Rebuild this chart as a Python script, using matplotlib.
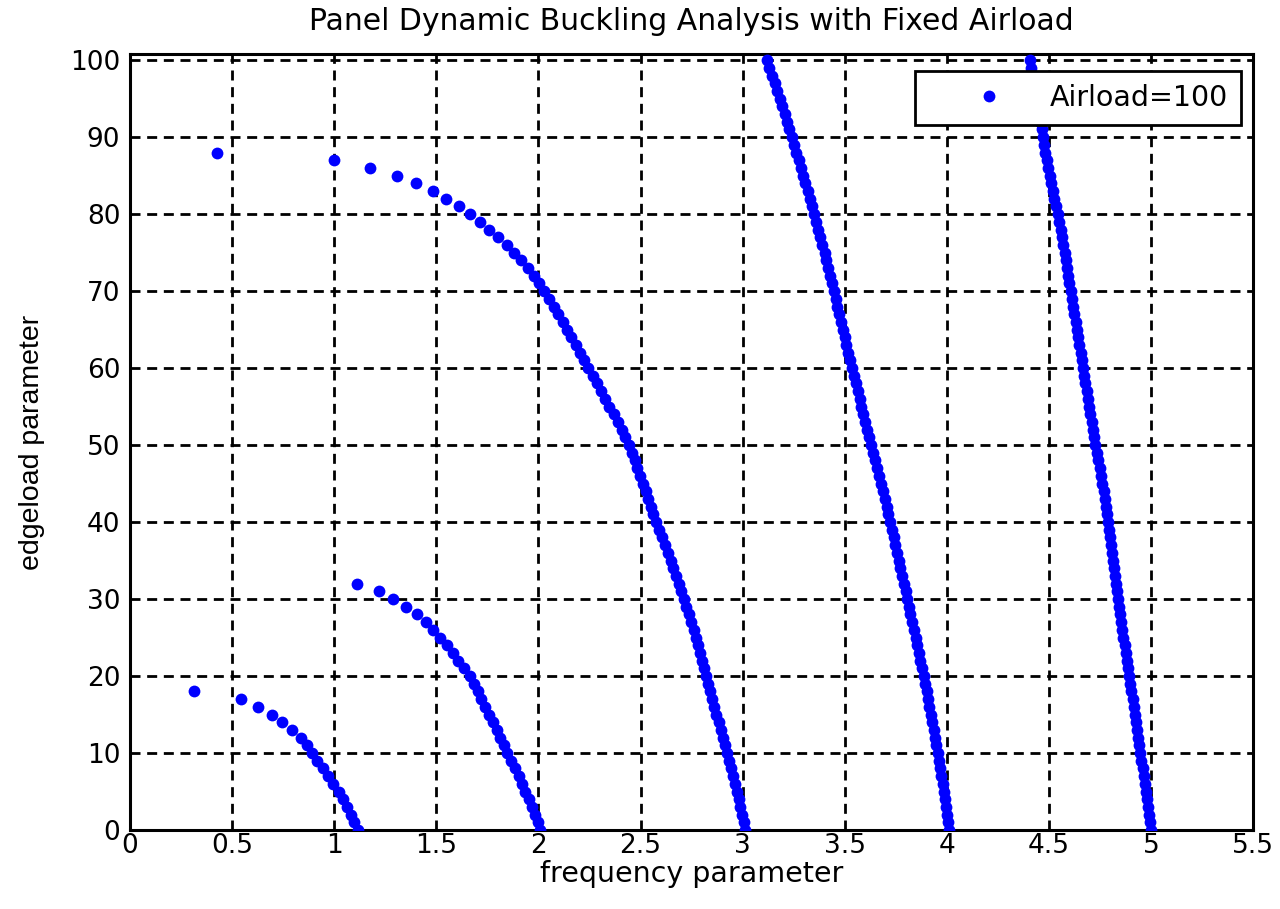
import numpy as np
import matplotlib.pyplot as plt

plt.rcParams['font.family'] = ['DejaVu Sans']

# edgeload steps (one per integer), frequency for each branch
edge_1 = np.arange(0, 19)
freq_1 = [1.117, 1.098, 1.081, 1.062, 1.043, 1.021, 0.995, 0.968, 0.944, 0.918,
          0.890, 0.866, 0.838, 0.794, 0.744, 0.695, 0.629, 0.541, 0.315]

edge_2 = np.arange(0, 33)
freq_2 = [2.010, 1.996, 1.982, 1.968, 1.952, 1.936, 1.920, 1.903, 1.884, 1.865,
          1.846, 1.829, 1.812, 1.796, 1.778, 1.759, 1.740, 1.721, 1.702, 1.683,
          1.664, 1.635, 1.608, 1.580, 1.550, 1.518, 1.482, 1.449, 1.404, 1.353,
          1.289, 1.218, 1.111]

edge_3 = np.arange(0, 89)
freq_3 = [3.013, 3.005, 2.997, 2.989, 2.980, 2.972, 2.962, 2.952, 2.942, 2.932,
          2.922, 2.912, 2.902, 2.892, 2.882, 2.872, 2.862, 2.852, 2.842, 2.832,
          2.822, 2.812, 2.802, 2.792, 2.782, 2.772, 2.761, 2.749, 2.737, 2.725,
          2.713, 2.700, 2.687, 2.674, 2.661, 2.648, 2.633, 2.619, 2.605, 2.590,
          2.575, 2.563, 2.550, 2.537, 2.525, 2.512, 2.498, 2.485, 2.472, 2.459,
          2.445, 2.426, 2.407, 2.388, 2.368, 2.348, 2.328, 2.307, 2.286, 2.265,
          2.244, 2.224, 2.204, 2.183, 2.161, 2.139, 2.118, 2.097, 2.074, 2.051,
          2.027, 2.003, 1.977, 1.947, 1.914, 1.880, 1.845, 1.803, 1.758, 1.712,
          1.663, 1.612, 1.545, 1.483, 1.398, 1.307, 1.176, 1.000, 0.426]

edge_4 = np.arange(0, 101)
freq_4 = [4.013, 4.007, 4.002, 3.996, 3.991, 3.985, 3.979, 3.973, 3.967, 3.961,
          3.955, 3.948, 3.942, 3.935, 3.929, 3.922, 3.915, 3.908, 3.901, 3.894,
          3.887, 3.879, 3.871, 3.863, 3.855, 3.847, 3.839, 3.831, 3.822, 3.814,
          3.806, 3.798, 3.790, 3.781, 3.773, 3.765, 3.757, 3.748, 3.740, 3.731,
          3.723, 3.714, 3.705, 3.696, 3.687, 3.678, 3.668, 3.658, 3.649, 3.639,
          3.629, 3.620, 3.610, 3.601, 3.591, 3.582, 3.573, 3.564, 3.554, 3.545,
          3.536, 3.527, 3.518, 3.508, 3.499, 3.490, 3.481, 3.473, 3.464, 3.456,
          3.447, 3.438, 3.429, 3.419, 3.410, 3.401, 3.391, 3.381, 3.370, 3.360,
          3.350, 3.339, 3.328, 3.318, 3.307, 3.296, 3.285, 3.274, 3.262, 3.251,
          3.240, 3.229, 3.217, 3.206, 3.194, 3.183, 3.170, 3.157, 3.144, 3.131,
          3.118]

edge_5 = np.arange(0, 101)
freq_5 = [5.000, 4.995, 4.990, 4.985, 4.980, 4.975, 4.970, 4.964, 4.959, 4.953,
          4.948, 4.943, 4.937, 4.932, 4.926, 4.921, 4.915, 4.910, 4.904, 4.899,
          4.893, 4.887, 4.882, 4.876, 4.871, 4.865, 4.859, 4.854, 4.848, 4.843,
          4.837, 4.833, 4.828, 4.824, 4.819, 4.815, 4.810, 4.805, 4.800, 4.795,
          4.790, 4.784, 4.779, 4.773, 4.768, 4.762, 4.755, 4.748, 4.740, 4.733,
          4.726, 4.720, 4.714, 4.709, 4.703, 4.697, 4.691, 4.685, 4.679, 4.673,
          4.667, 4.661, 4.655, 4.649, 4.643, 4.637, 4.631, 4.625, 4.618, 4.612,
          4.606, 4.600, 4.595, 4.589, 4.584, 4.578, 4.571, 4.564, 4.557, 4.550,
          4.543, 4.535, 4.527, 4.519, 4.511, 4.503, 4.496, 4.490, 4.483, 4.477,
          4.470, 4.464, 4.458, 4.452, 4.446, 4.440, 4.433, 4.426, 4.419, 4.412,
          4.405]

x_ticks = [0, 0.5, 1, 1.5, 2, 2.5, 3, 3.5, 4, 4.5, 5, 5.5]
x_tick_labels = ['0', '0.5', '1', '1.5', '2', '2.5', '3', '3.5', '4', '4.5', '5', '5.5']
y_ticks = [0, 10, 20, 30, 40, 50, 60, 70, 80, 90, 100]

freq_all = np.concatenate([freq_1, freq_2, freq_3, freq_4, freq_5])
edge_all = np.concatenate([edge_1, edge_2, edge_3, edge_4, edge_5])

fig = plt.figure(figsize=(12.8, 9.09), dpi=100)
ax = fig.add_axes([0.1016, 0.0869, 0.8774, 0.8537])

ax.plot(freq_all, edge_all, 'o', color=(0, 0, 1), markersize=8.5, markeredgewidth=0,
        label='Airload=100', zorder=3)

ax.set_xlim(0, 5.5)
ax.set_ylim(0, 100.8)
ax.set_xticks(x_ticks)
ax.set_xticklabels(x_tick_labels)
ax.set_yticks(y_ticks)
ax.tick_params(direction='in', length=0, labelsize=19)
ax.tick_params(axis='x', pad=2)
ax.tick_params(axis='y', pad=7)

ax.grid(True, color='black', linewidth=2, linestyle=(0, (3.6, 2.4)))
ax.set_axisbelow(True)
for s in ax.spines.values():
    s.set_linewidth(2.2)
    s.set_color('black')

ax.set_title('Panel Dynamic Buckling Analysis with Fixed Airload', fontsize=21.5, pad=17)
ax.set_xlabel('frequency parameter', fontsize=20.5, labelpad=1)
# vertical text in the reference is narrower, a plain Arial-like face fits it
ax.set_ylabel('edgeload parameter', fontsize=20.5, labelpad=18,
              family=['Liberation Sans', 'DejaVu Sans'])

leg = ax.legend(loc='upper right', bbox_to_anchor=(0.9893, 0.978), borderaxespad=0,
                fontsize=20.5, fancybox=False, framealpha=1, edgecolor='black',
                borderpad=0.45, handletextpad=0.0, handlelength=4.3)
leg.get_frame().set_linewidth(2)
leg.set_zorder(5)

plt.savefig('out.png', dpi=100)
